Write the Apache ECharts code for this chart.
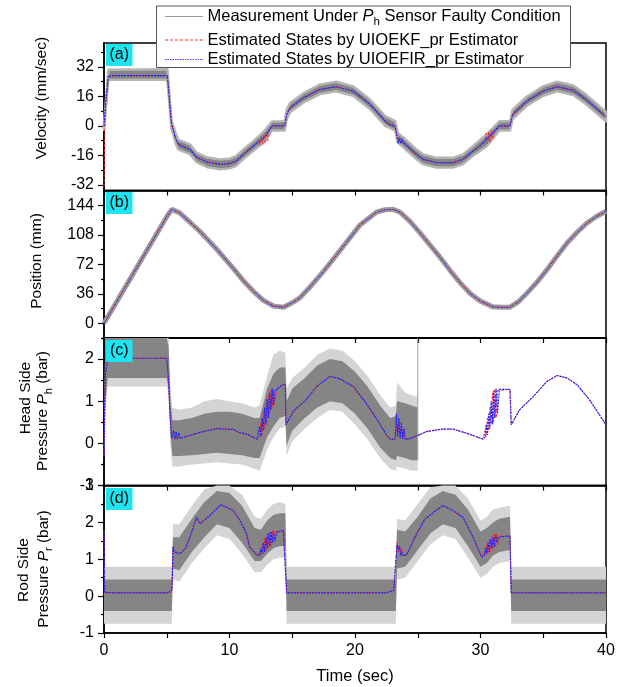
<!DOCTYPE html>
<html>
<head>
<meta charset="utf-8">
<script src="https://cdn.jsdelivr.net/npm/echarts@6/dist/echarts.min.js"></script>
<style>
  html, body { margin: 0; padding: 0; background: #fff; }
  #chart { width: 636px; height: 687px; }
</style>
</head>
<body>
<div id="chart"></div>
<script>
// ---------- (a) velocity, mm/sec ----------
const velT = [0, 0.1, 0.35, 1, 2, 3, 4, 5.05, 5.38, 5.58, 5.74, 5.93, 6.4, 6.85, 7.38, 8.18, 9.24,
  10.0, 10.53, 11.1, 11.9, 12.3, 12.45, 12.55, 12.65, 12.75, 12.85, 12.95, 13.05, 13.2, 13.4, 14.4,
  14.56, 14.82, 15.9, 17.2, 18.5, 19.86, 21.2, 22.4, 22.8, 23.2, 23.35, 23.45, 23.55, 23.65, 23.75,
  23.85, 24.9, 25.44, 26.5, 27.8, 28.6, 29.4, 30.0, 30.35, 30.45, 30.55, 30.65, 30.75, 30.85, 30.95,
  31.1, 31.5, 32.35, 32.56, 33.7, 35.0, 36.1, 37.4, 38.4, 40];
const velEkf = [-33, 10, 27.2, 27.3, 27.3, 27.3, 27.3, 27.3, 1, -3.5, -7.5, -10, -11.5, -12.7, -17,
  -19.5, -20.8, -20.4, -19, -15.4, -10.9, -8.6, -10.5, -5.5, -10, -5, -9.5, -4, -8, -2, 0, 0, 6.3,
  9.9, 15.3, 19.8, 21.3, 18.9, 11.7, 2.7, 0.7, 0, -5, -7, -8, -8.5, -8.8, -9, -15.4, -18.1, -19.9,
  -19.9, -18.1, -13.6, -10.5, -9, -4, -9.5, -3, -9, -2.5, -7, -3.2, 0, 0, 6.3, 13.5, 18.9, 21.3,
  19.3, 14.4, 5.0];
const velEfir = [0, 10, 27.2, 27.3, 27.3, 27.3, 27.3, 27.3, 1, -3.5, -7.5, -10, -11.5, -12.7, -17,
  -19.5, -20.8, -20.4, -19, -15.4, -10.9, -8.6, -8, -7.4, -6.8, -6.2, -5.5, -4.8, -3.8, -2, 0, 0,
  6.3, 9.9, 15.3, 19.8, 21.3, 18.9, 11.7, 2.7, 0.7, 0, -6, -9.5, -6.5, -9.5, -7, -9, -15.4, -18.1,
  -19.9, -19.9, -18.1, -13.6, -10.5, -8.3, -7.5, -6.8, -6, -5.2, -4.5, -3.8, -3.2, 0, 0, 6.3, 13.5,
  18.9, 21.3, 19.3, 14.4, 5.0];
// spread of the noisy velocity measurement
const velMeasT = [0, 0.35, 5.05, 5.38, 5.74, 5.93, 6.85, 7.38, 8.18, 9.24, 10.0, 10.53, 11.1, 11.9,
  12.7, 13.4, 14.4, 14.56, 14.82, 15.9, 17.2, 18.5, 19.86, 21.2, 22.4, 23.2, 23.4, 23.85, 24.9,
  25.44, 26.5, 27.8, 28.6, 29.4, 30.5, 31.5, 32.35, 32.56, 33.7, 35.0, 36.1, 37.4, 38.4, 40];
const velMeasHi = [1, 30.5, 30.8, 3, -4.5, -7.5, -10, -14.5, -17, -18.2, -17.8, -16.3, -12.8, -8.2,
  -3.3, 2.4, 2.5, 8.8, 12.5, 17.8, 22.4, 24, 21.4, 14.3, 5.3, 2.6, -3.8, -6.2, -12.8, -15.5, -17.3,
  -17.3, -15.5, -11, -4.5, 2.5, 2.6, 8.8, 16, 21.5, 24, 21.9, 17, 7.6];
const velMeasLo = [-2, 25, 25.2, -1.5, -10, -12.8, -15.3, -19.6, -22.2, -23.5, -23, -21.6, -18,
  -13.5, -9, -2.5, -2.5, 3.8, 7.4, 12.8, 17.3, 18.8, 16.4, 9.2, 0.2, -2.5, -8.9, -11.6, -18, -20.7,
  -22.5, -22.5, -20.7, -16.2, -11, -2.5, -2.5, 3.8, 11, 16.4, 18.8, 16.8, 11.9, 2.5];

// ---------- (b) position, mm ----------
const posT = [0, 1, 2, 3, 4, 5, 5.4, 6, 6.8, 7.65, 9, 10.3, 11.1, 11.9, 12.7, 13.5, 14.3, 15, 15.6,
  16.4, 17.2, 18.1, 19.07, 20.4, 21.7, 22.4, 23.05, 23.6, 24.4, 25.2, 26, 26.8, 27.6, 28.4, 29.2, 30,
  31.0, 31.7, 32.35, 33, 33.7, 34.5, 35.3, 36.1, 36.9, 37.7, 38.5, 39.2, 40];
const posVal = [0, 26, 52, 78, 104, 130, 139, 135, 124, 112, 90, 67, 52, 39, 28, 21, 19.6, 25, 31,
  44, 58, 75, 94, 120, 135.5, 138.5, 139, 135.5, 124, 110, 95, 80, 64, 49, 36, 27, 20, 19.5, 19.6,
  26, 36.7, 50, 65.4, 82, 98, 111, 122.4, 130, 136.7];

// ---------- (c) head side pressure, bar ----------
const headT = [0, 0.1, 0.3, 1, 2, 3, 4, 4.99, 5.12, 5.26, 5.39, 5.55, 5.65, 5.75, 5.85, 5.95, 6.06,
  7, 7.65, 8.97, 10.3, 10.84, 11.36, 12.2, 12.4, 12.5, 12.6, 12.7, 12.8, 12.9, 13.0, 13.1, 13.2, 13.3,
  13.4, 13.5, 13.6, 13.76, 14.0, 14.29, 14.45, 14.5, 15.1, 16.1, 16.95, 18.0, 18.8, 19.86, 20.9, 22.0,
  22.5, 22.8, 23.2, 23.3, 23.4, 23.5, 23.6, 23.7, 23.8, 23.9, 24.0, 24.25, 25.1, 25.7, 27.0, 27.8,
  28.9, 30.2, 30.35, 30.45, 30.55, 30.65, 30.75, 30.85, 30.95, 31.05, 31.15, 31.25, 31.35, 31.5,
  32.35, 32.45, 33.1, 34.2, 35.3, 36.1, 36.9, 37.7, 38.7, 40];
const headEkf = [-0.3, 1.6, 2.02, 2.02, 2.02, 2.02, 2.02, 2.02, 1.6, 0.71, 0.12, 0.1, 0.12, 0.13,
  0.12, 0.13, 0.12, 0.2, 0.26, 0.35, 0.33, 0.25, 0.22, 0.1, 0.15, 0.5, 0.2, 0.75, 0.35, 0.95, 0.5,
  1.15, 0.7, 1.25, 0.85, 1.3, 0.95, 1.27, 1.35, 1.39, 1.4, 0.44, 0.77, 1.03, 1.35, 1.59, 1.53, 1.35,
  0.95, 0.45, 0.2, 0.1, 0.1, 0.5, 0.2, 0.45, 0.15, 0.35, 0.12, 0.25, 0.1, 0.1, 0.2, 0.28, 0.34, 0.34,
  0.24, 0.1, 0.3, 0.15, 0.6, 0.3, 0.85, 0.45, 1.2, 0.5, 1.3, 0.6, 1.25, 1.28, 1.28, 0.44, 0.79, 1.11,
  1.47, 1.61, 1.55, 1.39, 1.03, 0.44];
const headEfir = [-0.3, 1.6, 2.02, 2.02, 2.02, 2.02, 2.02, 2.02, 1.6, 0.71, 0.12, 0.3, 0.1, 0.28,
  0.1, 0.25, 0.12, 0.2, 0.26, 0.35, 0.33, 0.25, 0.22, 0.1, 0.4, 0.15, 0.6, 0.3, 0.85, 0.45, 1.05,
  0.6, 1.2, 0.8, 1.3, 0.9, 1.25, 1.27, 1.35, 1.39, 1.4, 0.44, 0.77, 1.03, 1.35, 1.59, 1.53, 1.35,
  0.95, 0.45, 0.2, 0.1, 0.1, 0.7, 0.15, 0.6, 0.12, 0.5, 0.1, 0.35, 0.1, 0.1, 0.2, 0.28, 0.34, 0.34,
  0.24, 0.1, 0.15, 0.45, 0.2, 0.7, 0.35, 1.0, 0.45, 1.25, 0.6, 1.3, 0.7, 1.28, 1.28, 0.44, 0.79,
  1.11, 1.47, 1.61, 1.55, 1.39, 1.03, 0.44];
// the faulty head-side sensor reports until t = 25 s
const headMeasT = [0, 0.1, 0.3, 5.0, 5.15, 5.3, 5.45, 6, 7, 8, 9, 10, 11, 12, 12.4, 13, 13.5, 14,
  14.45, 14.55, 15, 16, 17, 18, 19, 20, 21, 22, 22.8, 23.25, 23.35, 24, 24.5, 25.0];
const headMeasHi = [0, 2.5, 2.5, 2.5, 2.3, 1.0, 0.55, 0.55, 0.6, 0.7, 0.75, 0.75, 0.7, 0.6, 0.6,
  1.3, 1.65, 1.8, 1.8, 1.0, 1.3, 1.55, 1.85, 2.0, 1.95, 1.7, 1.35, 0.9, 0.6, 0.65, 1.0, 0.95, 0.9, 0.85];
const headMeasLo = [-0.3, 1.0, 1.55, 1.55, 1.3, 0.2, -0.3, -0.3, -0.28, -0.25, -0.22, -0.25, -0.28,
  -0.35, -0.35, 0.15, 0.4, 0.6, 0.65, -0.05, 0.3, 0.6, 0.85, 1.0, 0.95, 0.7, 0.35, -0.1, -0.35, -0.4,
  -0.3, -0.35, -0.4, -0.4];
const headPeakHi = [0, 2.5, 2.5, 2.5, 2.5, 1.3, 0.85, 0.8, 0.85, 1.0, 1.05, 1.0, 0.95, 0.85, 0.9,
  1.6, 2.1, 2.2, 2.15, 1.3, 1.55, 1.8, 2.1, 2.25, 2.2, 1.95, 1.6, 1.15, 0.85, 0.9, 1.45, 1.2, 1.15, 1.1];
const headPeakLo = [-0.35, 0.8, 1.35, 1.35, 1.1, -0.1, -0.55, -0.55, -0.5, -0.48, -0.45, -0.48,
  -0.5, -0.6, -0.65, -0.15, 0.15, 0.35, 0.4, -0.3, 0.05, 0.35, 0.6, 0.8, 0.75, 0.45, 0.1, -0.35,
  -0.6, -0.65, -0.55, -0.6, -0.65, -0.65];
const headLastT = [25, 25];
const headLastV = [-0.4, 2.5];

// ---------- (d) rod side pressure, bar ----------
const rodT = [0, 0.05, 0.2, 1, 5.0, 5.3, 5.42, 5.5, 5.6, 5.75, 6.06, 6.5, 6.85, 7.38, 7.65, 8.45,
  9.24, 9.4, 10.3, 10.84, 11.36, 11.6, 12.2, 12.4, 12.5, 12.6, 12.7, 12.8, 12.9, 13.0, 13.1, 13.2,
  13.3, 13.4, 13.5, 13.6, 13.8, 14.3, 14.45, 14.55, 15, 22.5, 23.1, 23.25, 23.35, 23.45, 23.55, 23.65,
  23.75, 23.85, 24.1, 24.9, 25.6, 27.0, 27.8, 28.6, 29.4, 30.1, 30.3, 30.4, 30.5, 30.6, 30.7, 30.8,
  30.9, 31.0, 31.1, 31.2, 31.3, 31.4, 31.5, 32.35, 32.45, 32.6, 40];
const rodEkf = [1.78, 0.1, 0.09, 0.09, 0.09, 0.12, 0.2, 1.35, 1.2, 1.15, 1.15, 1.3, 1.6, 2.14, 1.96,
  2.19, 2.46, 2.47, 2.32, 2.05, 1.69, 1.33, 1.11, 1.2, 1.1, 1.4, 1.15, 1.55, 1.2, 1.7, 1.3, 1.75, 1.35,
  1.8, 1.45, 1.75, 1.75, 1.78, 1.78, 0.09, 0.09, 0.09, 0.16, 0.2, 1.47, 1.2, 1.4, 1.15, 1.3, 1.12,
  1.11, 1.69, 2.1, 2.46, 2.32, 2.14, 1.6, 1.06, 1.2, 1.1, 1.4, 1.15, 1.55, 1.2, 1.65, 1.25, 1.7, 1.3,
  1.7, 1.4, 1.63, 1.63, 0.09, 0.09, 0.09];
const rodEfir = [1.78, 0.1, 0.09, 0.09, 0.09, 0.12, 0.2, 1.35, 1.2, 1.15, 1.15, 1.3, 1.6, 2.14, 1.96,
  2.19, 2.46, 2.47, 2.32, 2.05, 1.69, 1.33, 1.11, 1.1, 1.3, 1.15, 1.45, 1.2, 1.6, 1.3, 1.7, 1.35, 1.75,
  1.45, 1.75, 1.5, 1.75, 1.78, 1.78, 0.09, 0.09, 0.09, 0.16, 0.2, 1.4, 1.25, 1.35, 1.1, 1.2, 1.1,
  1.11, 1.69, 2.1, 2.46, 2.32, 2.14, 1.6, 1.06, 1.1, 1.3, 1.15, 1.45, 1.2, 1.55, 1.3, 1.6, 1.35, 1.65,
  1.45, 1.6, 1.63, 1.63, 0.09, 0.09, 0.09];
const rodMeasT = [0, 5.4, 5.5, 6, 7, 8, 9, 10, 11, 12, 12.5, 13, 13.5, 14, 14.45, 14.55, 23.25,
  23.35, 24, 25, 26, 27, 28, 29, 30, 30.5, 31, 31.5, 32.35, 32.45, 40];
const rodMeasHi = [0.45, 0.45, 1.6, 1.6, 2.1, 2.55, 2.85, 2.8, 2.45, 1.85, 1.8, 2.05, 2.2, 2.25,
  2.25, 0.45, 0.45, 1.8, 1.75, 2.15, 2.65, 2.85, 2.75, 2.35, 1.75, 1.85, 2.0, 2.1, 2.15, 0.45, 0.45];
const rodMeasLo = [-0.4, -0.4, 0.75, 0.7, 1.2, 1.6, 1.95, 1.85, 1.45, 0.95, 0.95, 1.15, 1.3, 1.35,
  1.35, -0.4, -0.4, 0.75, 0.8, 1.25, 1.7, 1.95, 1.85, 1.35, 0.8, 0.9, 1.1, 1.2, 1.25, -0.4, -0.4];
const rodPeakHi = [0.8, 0.8, 1.95, 1.95, 2.45, 2.9, 3.0, 3.0, 2.75, 2.15, 2.1, 2.35, 2.5, 2.55,
  2.5, 0.8, 0.8, 2.1, 2.05, 2.5, 2.95, 3.0, 3.0, 2.65, 2.05, 2.15, 2.35, 2.4, 2.45, 0.8, 0.8];
const rodPeakLo = [-0.75, -0.75, 0.45, 0.4, 0.9, 1.3, 1.65, 1.55, 1.15, 0.65, 0.65, 0.85, 1.0, 1.05,
  1.05, -0.75, -0.75, 0.45, 0.5, 0.95, 1.4, 1.65, 1.55, 1.05, 0.5, 0.6, 0.8, 0.9, 0.95, -0.75, -0.75];

// ---------- axis ticks ----------
const timeLabels = [0, 10, 20, 30, 40];
const velTicks = [-32, -16, 0, 16, 32];
const velMinor = [-24, -8, 8, 24, 40];
const posTicks = [0, 36, 72, 108, 144];
const posMinor = [-18, 18, 54, 90, 126];
const headTicks = [-1, 0, 1, 2];
const headMinor = [-0.5, 0.5, 1.5, 2.5];
const rodTicks = [-1, 0, 1, 2, 3];
const rodMinor = [-0.5, 0.5, 1.5, 2.5];

const FONT = '"Liberation Sans", Arial, Helvetica, sans-serif';
const GRID_TOPS = [43, 190.5, 338, 485.5];
const GRID_H = 147.5;
const CORE = '#858585';
const FRINGE = '#d4d4d4';
const RED = '#ff2a2a';
const BLUE = '#1f1fff';

const ranges = [
  { min: -35, max: 45, major: velTicks, minor: velMinor },
  { min: -18, max: 162, major: posTicks, minor: posMinor },
  { min: -1, max: 2.5, major: headTicks, minor: headMinor },
  { min: -1, max: 3, major: rodTicks, minor: rodMinor }
];

const grids = GRID_TOPS.map(top => ({
  left: 104, width: 502, top: top, height: GRID_H,
  show: true, borderColor: '#000', borderWidth: 1.5, backgroundColor: 'transparent'
}));

const xAxes = GRID_TOPS.map((_, i) => ({
  type: 'value', gridIndex: i, min: 0, max: 40, interval: 5,
  axisLine: { show: true, onZero: false, lineStyle: { color: '#000', width: 1.5 } },
  axisTick: { show: true, inside: false, length: 5, lineStyle: { color: '#000', width: 1.2 } },
  axisLabel: {
    show: i === 3, customValues: timeLabels, color: '#000', fontSize: 16,
    fontFamily: FONT, margin: 10
  },
  splitLine: { show: false }
}));

const yAxes = [];
ranges.forEach((r, i) => {
  yAxes.push({
    type: 'value', gridIndex: i, min: r.min, max: r.max, position: 'left',
    axisLine: { show: true, onZero: false, lineStyle: { color: '#000', width: 1.5 } },
    axisTick: { show: true, inside: false, length: 6, customValues: r.major,
      lineStyle: { color: '#000', width: 1.2 } },
    axisLabel: { show: true, customValues: r.major, color: '#000', fontSize: 16,
      fontFamily: FONT, margin: 10 },
    splitLine: { show: false }
  });
  yAxes.push({
    type: 'value', gridIndex: i, min: r.min, max: r.max, position: 'left', offset: 0,
    axisLine: { show: false },
    axisTick: { show: true, inside: false, length: 3, customValues: r.minor,
      lineStyle: { color: '#000', width: 1.2 } },
    axisLabel: { show: false },
    splitLine: { show: false }
  });
});

// filled band between two measured envelopes
function band(gi, t, hi, lo, fill, z, edge) {
  return {
    type: 'custom', xAxisIndex: gi, yAxisIndex: gi * 2, silent: true, z: z,
    data: [[t[0], lo[0]]],
    renderItem: function (params, api) {
      const pts = [];
      for (let k = 0; k < t.length; k++) pts.push(api.coord([t[k], hi[k]]));
      for (let k = t.length - 1; k >= 0; k--) pts.push(api.coord([t[k], lo[k]]));
      const style = { fill: fill };
      if (edge) { style.stroke = edge; style.lineWidth = 2.5; style.lineJoin = 'round'; }
      return { type: 'polygon', shape: { points: pts }, style: style };
    }
  };
}

function trace(gi, t, v, color, dash, width, z) {
  return {
    type: 'line', xAxisIndex: gi, yAxisIndex: gi * 2, silent: true, z: z,
    data: t.map((x, k) => [x, v[k]]),
    symbol: 'none', showSymbol: false,
    lineStyle: { color: color, type: dash, width: width }
  };
}

const series = [
  // (a)
  band(0, velMeasT, velMeasHi, velMeasLo, CORE, 2, '#b4b4b4'),
  trace(0, velT, velEkf, RED, [3, 2], 1, 3),
  trace(0, velT, velEfir, BLUE, [2, 1], 1.2, 4),
  // (b)
  trace(1, posT, posVal, '#9a9a9a', 'solid', 5, 2),
  trace(1, posT, posVal, RED, [3, 2], 1, 3),
  trace(1, posT, posVal, BLUE, [1.5, 1.5], 1, 4),
  // (c)
  band(2, headMeasT, headPeakHi, headPeakLo, FRINGE, 1),
  band(2, headMeasT, headMeasHi, headMeasLo, CORE, 2),
  trace(2, headLastT, headLastV, '#a0a0a0', 'solid', 1, 2),
  trace(2, headT, headEkf, RED, [3, 2], 1, 3),
  trace(2, headT, headEfir, BLUE, [2, 1], 1.2, 4),
  // (d)
  band(3, rodMeasT, rodPeakHi, rodPeakLo, FRINGE, 1),
  band(3, rodMeasT, rodMeasHi, rodMeasLo, CORE, 2),
  trace(3, rodT, rodEkf, RED, [3, 2], 1, 3),
  trace(3, rodT, rodEfir, BLUE, [2, 1], 1.2, 4)
];

// rotated axis titles with italic symbol and subscript
const RICH = {
  n: { fontSize: 15.5, fontFamily: FONT, fill: '#000', lineHeight: 22 },
  i: { fontSize: 15.5, fontFamily: FONT, fontStyle: 'italic', fill: '#000', lineHeight: 22 },
  s: { fontSize: 11, fontFamily: FONT, fill: '#000', lineHeight: 11, verticalAlign: 'bottom' }
};
function vText(x, y, text) {
  return {
    type: 'text', x: x, y: y, rotation: Math.PI / 2, z: 50,
    style: { text: text, rich: RICH, align: 'center', verticalAlign: 'middle',
      fontSize: 15.5, fontFamily: FONT, fill: '#000' }
  };
}
function tag(y, label) {
  return [
    { type: 'rect', shape: { x: 106, y: y, width: 26.5, height: 22 },
      style: { fill: '#1ee4ef' }, z: 50 },
    { type: 'text', x: 119.3, y: y + 11, z: 51,
      style: { text: label, fontSize: 16, fontFamily: FONT, fill: '#000',
        align: 'center', verticalAlign: 'middle' } }
  ];
}

const LEG = {
  n: { fontSize: 16.5, fontFamily: FONT, fill: '#000', lineHeight: 22 },
  i: { fontSize: 16.5, fontFamily: FONT, fontStyle: 'italic', fill: '#000', lineHeight: 22 },
  s: { fontSize: 11.5, fontFamily: FONT, fill: '#000', lineHeight: 11, verticalAlign: 'bottom' }
};
const legendRows = [
  { y: 16.5, text: '{n|Measurement Under }{i|P}{s|h}{n| Sensor Faulty Condition}',
    stroke: '#9a9a9a', dash: null },
  { y: 40, text: '{n|Estimated States by UIOEKF_pr Estimator}', stroke: RED, dash: [3, 2] },
  { y: 59.5, text: '{n|Estimated States by UIOEFIR_pr Estimator}', stroke: '#4a4aff', dash: [1.5, 1] }
];
const legendGraphics = [
  { type: 'rect', shape: { x: 156.5, y: 6, width: 414, height: 61.5 }, z: 60,
    style: { fill: '#fff', stroke: '#555', lineWidth: 1 } }
];
legendRows.forEach(r => {
  legendGraphics.push({ type: 'line', shape: { x1: 165, y1: r.y, x2: 203, y2: r.y }, z: 61,
    style: { stroke: r.stroke, lineWidth: 1, lineDash: r.dash } });
  legendGraphics.push({ type: 'text', x: 207.5, y: r.y, z: 61,
    style: { text: r.text, rich: LEG, align: 'left', verticalAlign: 'middle',
      fontSize: 16.5, fontFamily: FONT, fill: '#000' } });
});

const graphics = [].concat(
  legendGraphics,
  tag(44, '(a)'), tag(192, '(b)'), tag(340, '(c)'), tag(488, '(d)'),
  [
    vText(41.5, 98, '{n|Velocity (mm/sec)}'),
    vText(36.5, 261, '{n|Position (mm)}'),
    vText(26, 398, '{n|Head Side}'),
    vText(43, 411, '{n|Pressure }{i|P}{s|h}{n| (bar)}'),
    vText(24, 570, '{n|Rod Side}'),
    vText(43.5, 569, '{n|Pressure }{i|P}{s|r}{n| (bar)}'),
    { type: 'text', x: 355, y: 676, z: 50,
      style: { text: 'Time (sec)', fontSize: 16.5, fontFamily: FONT, fill: '#000',
        align: 'center', verticalAlign: 'middle' } }
  ]
);

const chart = echarts.init(document.getElementById('chart'), null, { renderer: 'canvas' });
chart.setOption({
  animation: false,
  backgroundColor: '#fff',
  grid: grids,
  xAxis: xAxes,
  yAxis: yAxes,
  series: series,
  graphic: graphics
});
</script>
</body>
</html>
